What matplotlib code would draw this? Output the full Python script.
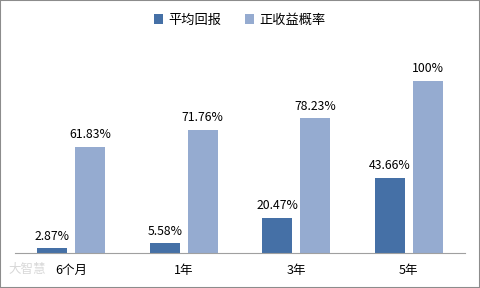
import numpy as np
import matplotlib.pyplot as plt
from matplotlib.patches import Rectangle

plt.rcParams['font.family'] = ['Noto Sans CJK SC', 'DejaVu Sans']

categories = ['6个月', '1年', '3年', '5年']
avg_return = [2.87, 5.58, 20.47, 43.66]
pos_prob = [61.83, 71.76, 78.23, 100]
labels_avg = ['2.87%', '5.58%', '20.47%', '43.66%']
labels_prob = ['61.83%', '71.76%', '78.23%', '100%']

dark = '#4570a6'
light = '#95abd0'

fig = plt.figure(figsize=(4.8, 2.88), dpi=100)
ax = fig.add_axes([15 / 480, 35 / 288, 450 / 480, 213 / 288])

x = np.arange(len(categories))
w = 0.267
off = 0.169
b1 = ax.bar(x - off, avg_return, w, color=dark, label='平均回报')
b2 = ax.bar(x + off, pos_prob, w, color=light, label='正收益概率')

for rect, t in zip(b1, labels_avg):
    ax.annotate(t, (rect.get_x() + rect.get_width() / 2, rect.get_height()),
                xytext=(0, 4), textcoords='offset points', ha='center', va='bottom', fontsize=8.8)
for rect, t in zip(b2, labels_prob):
    ax.annotate(t, (rect.get_x() + rect.get_width() / 2, rect.get_height()),
                xytext=(0, 4), textcoords='offset points', ha='center', va='bottom', fontsize=8.8)

ax.set_xlim(-0.5, 3.5)
ax.set_ylim(0, 123.8)
ax.set_xticks(x)
ax.set_xticklabels(categories, fontsize=9)
ax.tick_params(axis='x', length=0, pad=8)
ax.set_yticks([])
for s in ['top', 'right', 'left']:
    ax.spines[s].set_visible(False)
ax.spines['bottom'].set_color('#a0a0a0')

fig.legend(loc='center', bbox_to_anchor=(0.5, 1 - 20 / 288), ncol=2, frameon=False,
           fontsize=9.5, handlelength=0.7, handleheight=0.7, handletextpad=0.4, columnspacing=1.8)

# watermark and border
fig.text(8 / 480, 1 - 270 / 288, '大智慧', fontsize=9, color='#d8d8d8', va='center')
fig.patches.append(Rectangle((0, 0), 1, 1, transform=fig.transFigure, fill=False,
                             edgecolor='#8c8c8c', linewidth=1.5))

fig.savefig('out.png', dpi=100)
